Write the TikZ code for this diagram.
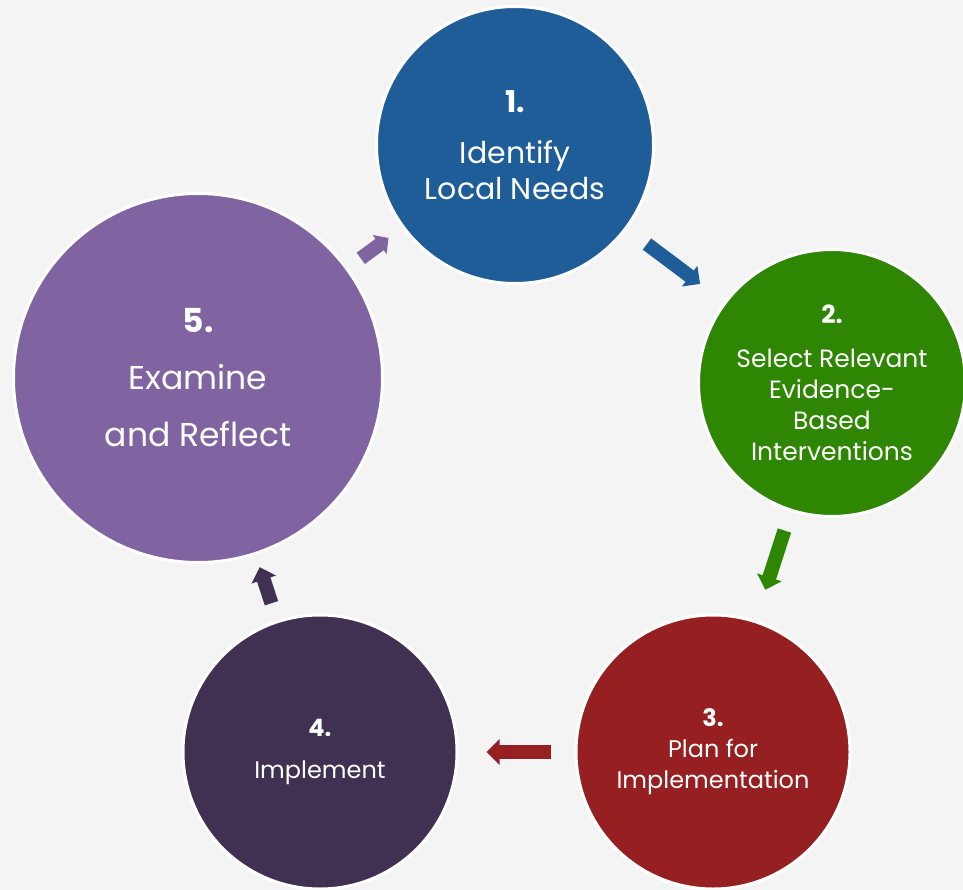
\documentclass[tikz,border=0pt]{standalone}
\usepackage{fontspec}
\setmainfont{Poppins}
\usetikzlibrary{arrows.meta}
\definecolor{bggray}{RGB}{244,244,244}
\definecolor{stepblue}{RGB}{31,93,153}
\definecolor{stepgreen}{RGB}{46,134,2}
\definecolor{stepred}{RGB}{150,31,34}
\definecolor{stepdark}{RGB}{64,49,82}
\definecolor{steppurple}{RGB}{128,100,162}

\begin{document}
\begin{tikzpicture}[x=1pt,y=-1pt]
			\tikzstyle{every node}+=[inner sep=0pt]
			\tikzstyle{stage}=[circle,draw=white,line width=3pt,text=white,align=center]
			\tikzstyle{flow}=[line width=14pt,-{Triangle[length=13pt,width=25pt]}]
			\fill [bggray] (0,0) rectangle (963,890);
			\useasboundingbox (0,0) rectangle (963,890);
			\node [stage,fill=stepblue,minimum size=277pt,font=\fontsize{30}{36}\selectfont] (s1) at (515,145) {\textbf{1.}\\[15pt]Identify\\Local Needs};
			\node [stage,fill=stepgreen,minimum size=267pt,font=\fontsize{25}{31}\selectfont] (s2) at (832,383) {\textbf{2.}\\[13pt]Select Relevant\\Evidence-\\Based\\Interventions};
			\node [stage,fill=stepred,minimum size=274pt,font=\fontsize{24}{31}\selectfont] (s3) at (713,752) {\textbf{3.}\\Plan for\\Implementation};
			\node [stage,fill=stepdark,minimum size=274pt,font=\fontsize{24}{31}\selectfont] (s4) at (320,752) {\textbf{4.}\\[11pt]Implement};
			\node [stage,fill=steppurple,minimum size=369pt,font=\fontsize{33}{57}\selectfont] (s5) at (198,378) {\textbf{5.}\\Examine\\and Reflect};
			\draw [flow,stepblue,shorten <=25pt,shorten >=30pt] (s1) -- (s2);
			\draw [flow,stepgreen,shorten <=20pt,shorten >=32pt] (s2) -- (s3);
			\draw [flow,stepred,shorten <=24pt,shorten >=28pt] (s3) -- (s4);
			\draw [flow,stepdark,shorten <=18pt,shorten >=13pt] (s4) -- (s5);
			\draw [flow,steppurple,-{Triangle[length=11pt,width=23pt]},shorten <=16pt,shorten >=17pt] (s5) -- (s1);
\end{tikzpicture}
\end{document}
